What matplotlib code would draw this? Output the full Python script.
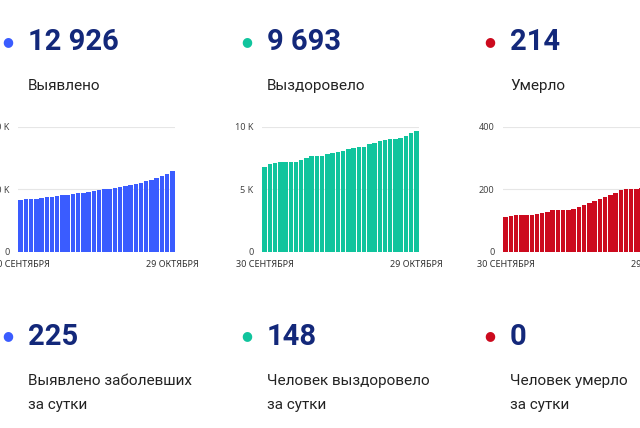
import matplotlib
matplotlib.use("Agg")
import matplotlib.pyplot as plt

days = list(range(30))
x_labels = ["30 СЕНТЯБРЯ", "29 ОКТЯБРЯ"]
detected = [8.3, 8.4, 8.5, 8.55, 8.65, 8.75, 8.85, 8.95, 9.05, 9.15, 9.3, 9.4, 9.5, 9.6, 9.75,
            9.85, 10.0, 10.1, 10.25, 10.4, 10.55, 10.7, 10.9, 11.1, 11.3, 11.55, 11.8, 12.1, 12.45, 12.926]
recovered = [6.8, 7.0, 7.1, 7.2, 7.2, 7.2, 7.2, 7.35, 7.55, 7.7, 7.7, 7.7, 7.8, 7.9, 8.0,
             8.1, 8.2, 8.3, 8.4, 8.4, 8.6, 8.75, 8.85, 8.95, 9.0, 9.05, 9.1, 9.3, 9.5, 9.693]
died = [113, 115, 118, 118, 118, 118, 122, 125, 128, 133, 133, 133, 133, 138, 145,
        150, 157, 162, 168, 175, 183, 190, 197, 200, 200, 203, 206, 209, 212, 214]
totals = ["12 926", "9 693", "214"]
total_labels = ["Выявлено", "Выздоровело", "Умерло"]
daily = ["225", "148", "0"]
daily_labels = [["Выявлено заболевших", "за сутки"], ["Человек выздоровело", "за сутки"], ["Человек умерло", "за сутки"]]
series = [detected, recovered, died]
yticks = [[0, 10, 20], [0, 5, 10], [0, 200, 400]]
yticklabels = [["0", "10 K", "20 K"], ["0", "5 K", "10 K"], ["0", "200", "400"]]
colors = ["#3a5cff", "#10c49d", "#cc0a1e"]
navy = "#13287a"

W, H = 640, 428
fig = plt.figure(figsize=(6.4, 4.28), dpi=100)
plt.rcParams["font.family"] = "Roboto"

def fy(p): return 1 - p / H

col_x = [8, 247, 490]
ax_left = [18, 262, 503]
for i in range(3):
    dx = col_x[i]
    tx = dx + 20
    fig.text(dx / W, fy(42), "●", color=colors[i], fontsize=9, ha="center", va="center", fontfamily="DejaVu Sans")
    fig.text(tx / W, fy(42), totals[i], color=navy, fontsize=21, fontweight="bold", va="center")
    fig.text(tx / W, fy(86), total_labels[i], color="#222222", fontsize=11, va="center")
    fig.text(dx / W, fy(336), "●", color=colors[i], fontsize=9, ha="center", va="center", fontfamily="DejaVu Sans")
    fig.text(tx / W, fy(337), daily[i], color=navy, fontsize=21, fontweight="bold", va="center")
    fig.text(tx / W, fy(381), daily_labels[i][0], color="#222222", fontsize=11, va="center")
    fig.text(tx / W, fy(405), daily_labels[i][1], color="#222222", fontsize=11, va="center")

    ax = fig.add_axes([ax_left[i] / W, fy(252), 157 / W, 125 / H])
    ax.bar(days, series[i], width=0.85, color=colors[i], zorder=2)
    ax.set_xlim(-0.5, 29.5)
    ax.set_ylim(0, yticks[i][-1])
    ax.set_yticks(yticks[i])
    ax.set_yticklabels(yticklabels[i], fontsize=6.5, color="#444444", fontfamily="Noto Sans")
    ax.set_xticks([0, 29])
    ax.set_xticklabels(x_labels, fontsize=6.5, color="#333333", fontfamily="Noto Sans")
    ax.grid(axis="y", color="#e6e6e6", lw=0.8, zorder=0)
    for s in ax.spines.values():
        s.set_visible(False)
    ax.tick_params(length=0, pad=6)

fig.savefig("out.png", dpi=100)
